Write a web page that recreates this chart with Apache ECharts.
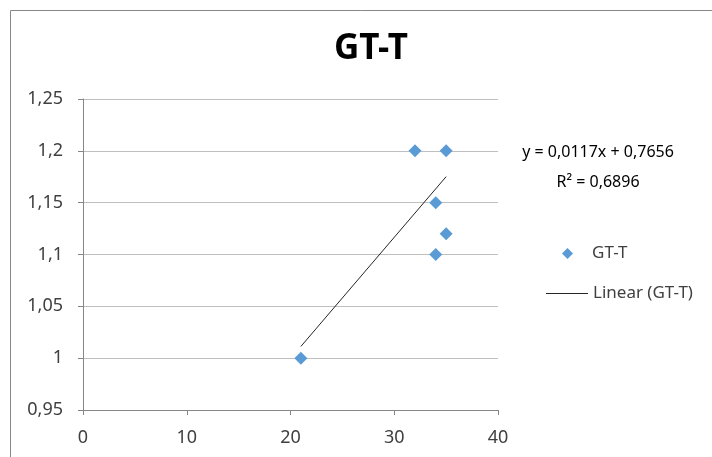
<!DOCTYPE html>
<html>
<head>
<meta charset="utf-8">
<script src="https://cdn.jsdelivr.net/npm/echarts@6/dist/echarts.min.js"></script>
<style>
html, body { margin: 0; padding: 0; background: #fff; }
#chart { width: 712px; height: 457px; }
</style>
</head>
<body>
<div id="chart"></div>
<script>
// data
var xValues = [21, 32, 35, 34, 35, 34];
var yValues = [1, 1.2, 1.2, 1.15, 1.12, 1.1];
var trendSlope = 0.0117;
var trendIntercept = 0.7656;
var trendR2 = 0.6896;
var xTicks = [0, 10, 20, 30, 40];
var yTicks = [0.95, 1, 1.05, 1.1, 1.15, 1.2, 1.25];

var seriesName = "GT-T";
var trendName = "Linear (" + seriesName + ")";
var fontFamily = "'Noto Sans', 'Open Sans', sans-serif";

function commaNum(v) {
    var r = Math.round(v * 10000) / 10000;
    return String(r).replace(".", ",");
}

var points = [];
for (var i = 0; i < xValues.length; i++) {
    points.push([xValues[i], yValues[i]]);
}

// trendline over the data range
var xMin = Math.min.apply(null, xValues);
var xMax = Math.max.apply(null, xValues);
var trendData = [
    [xMin, trendSlope * xMin + trendIntercept],
    [xMax, trendSlope * xMax + trendIntercept]
];

var chart = echarts.init(document.getElementById("chart"));

var option = {
    backgroundColor: "#fff",
    animation: false,
    title: {
        text: seriesName,
        left: 366,
        textAlign: "center",
        top: 27,
        textStyle: {
            fontFamily: fontFamily,
            fontSize: 35,
            fontWeight: "bold",
            color: "#000"
        }
    },
    grid: {
        left: 83,
        right: 214,
        top: 99,
        bottom: 47
    },
    xAxis: {
        type: "value",
        min: xTicks[0],
        max: xTicks[xTicks.length - 1],
        interval: 10,
        axisLine: { show: true, lineStyle: { color: "#868686", width: 1 } },
        axisTick: { show: true, length: 5, lineStyle: { color: "#868686" } },
        splitLine: { show: false },
        axisLabel: {
            margin: 19,
            fontFamily: fontFamily,
            fontSize: 18,
            color: "#404040"
        }
    },
    yAxis: {
        type: "value",
        min: yTicks[0],
        max: yTicks[yTicks.length - 1],
        interval: 0.05,
        axisLine: { show: true, lineStyle: { color: "#868686", width: 1 } },
        axisTick: { show: true, length: 5, lineStyle: { color: "#868686" } },
        splitLine: { show: true, lineStyle: { color: "#bfbfbf", width: 1 } },
        axisLabel: {
            margin: 20,
            fontFamily: fontFamily,
            fontSize: 18,
            color: "#404040",
            formatter: function (v) { return commaNum(v); }
        }
    },
    legend: [
        {
            left: 557,
            top: 240,
            itemWidth: 11,
            itemHeight: 11,
            icon: "diamond",
            itemStyle: { color: "#5b9bd5", opacity: 1 },
            textStyle: { fontFamily: fontFamily, fontSize: 17, color: "#404040", padding: [0, 0, 0, 14] },
            data: [seriesName]
        },
        {
            left: 541,
            top: 280,
            itemWidth: 42,
            itemHeight: 1,
            icon: "rect",
            textStyle: { fontFamily: fontFamily, fontSize: 17, color: "#404040" },
            data: [trendName]
        }
    ],
    graphic: [
        {
            type: "rect",
            shape: { x: 10.5, y: 10.5, width: 740, height: 480 },
            style: { fill: "none", stroke: "#878787", lineWidth: 1 },
            silent: true
        },
        {
            type: "text",
            style: {
                text: "y = " + commaNum(trendSlope) + "x + " + commaNum(trendIntercept),
                x: 598, y: 152,
                align: "center", verticalAlign: "middle",
                fontFamily: fontFamily, fontSize: 16, fill: "#000"
            }
        },
        {
            type: "text",
            style: {
                text: "R\u00b2 = " + commaNum(trendR2),
                x: 598, y: 182,
                align: "center", verticalAlign: "middle",
                fontFamily: fontFamily, fontSize: 16, fill: "#000"
            }
        }
    ],
    series: [
        {
            name: seriesName,
            type: "scatter",
            symbol: "diamond",
            symbolSize: 13,
            itemStyle: { color: "#5b9bd5", opacity: 1 },
            data: points,
            z: 3
        },
        {
            name: trendName,
            type: "line",
            symbol: "none",
            lineStyle: { color: "#262626", width: 1 },
            itemStyle: { color: "#262626" },
            data: trendData,
            z: 2
        }
    ]
};

chart.setOption(option);
</script>
</body>
</html>
